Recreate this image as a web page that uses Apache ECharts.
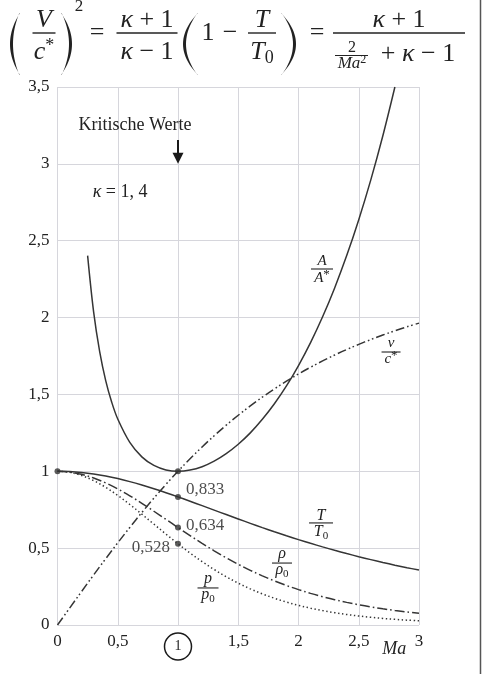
<!DOCTYPE html>
<html>
<head>
<meta charset="utf-8">
<script src="https://cdn.jsdelivr.net/npm/echarts@6/dist/echarts.min.js"></script>
<style>
  html, body { margin: 0; padding: 0; background: #fff; }
  #chart { width: 482px; height: 674px; }
</style>
</head>
<body>
<div id="chart"></div>
<script>
// Isentropic flow of a perfect gas, kappa = 1.4 — ratios over Mach number
const mach = [0, 0.1, 0.2, 0.3, 0.4, 0.5, 0.6, 0.7, 0.8, 0.9, 1.0,
  1.1, 1.2, 1.3, 1.4, 1.5, 1.6, 1.7, 1.8, 1.9, 2.0,
  2.1, 2.2, 2.3, 2.4, 2.5, 2.6, 2.7, 2.8, 2.9, 3.0];
const tempRatio = [1, 0.998, 0.9921, 0.9823, 0.969, 0.9524, 0.9328, 0.9107, 0.8865, 0.8606, 0.8333,
  0.8052, 0.7764, 0.7474, 0.7184, 0.6897, 0.6614, 0.6337, 0.6068, 0.5807, 0.5556,
  0.5313, 0.5081, 0.4859, 0.4647, 0.4444, 0.4252, 0.4068, 0.3894, 0.3729, 0.3571];
const densityRatio = [1, 0.995, 0.9803, 0.9564, 0.9243, 0.8852, 0.8405, 0.7916, 0.74, 0.687, 0.6339,
  0.5817, 0.5311, 0.4829, 0.4374, 0.395, 0.3557, 0.3197, 0.2868, 0.257, 0.23,
  0.2058, 0.1841, 0.1646, 0.1472, 0.1317, 0.1179, 0.1056, 0.0946, 0.0849, 0.0762];
const pressureRatio = [1, 0.993, 0.9725, 0.9395, 0.8956, 0.843, 0.784, 0.7209, 0.656, 0.5913, 0.5283,
  0.4684, 0.4124, 0.3609, 0.3142, 0.2724, 0.2353, 0.2026, 0.174, 0.1492, 0.1278,
  0.1094, 0.0935, 0.08, 0.0684, 0.0585, 0.0501, 0.043, 0.0368, 0.0317, 0.0272];
const velocityRatio = [0, 0.1094, 0.2182, 0.3257, 0.4313, 0.5345, 0.6348, 0.7318, 0.8251, 0.9146, 1.0,
  1.0812, 1.1583, 1.2311, 1.2999, 1.3646, 1.4254, 1.4825, 1.536, 1.5861, 1.633,
  1.6769, 1.7179, 1.7563, 1.7922, 1.8257, 1.8571, 1.8865, 1.914, 1.9398, 1.964];
const areaMach = [0.25, 0.3, 0.35, 0.4, 0.45, 0.5, 0.6, 0.7, 0.8, 0.9, 1.0,
  1.1, 1.2, 1.3, 1.4, 1.5, 1.6, 1.7, 1.8, 1.9, 2.0,
  2.1, 2.2, 2.3, 2.4, 2.5, 2.6, 2.7, 2.8];
const areaRatio = [2.403, 2.035, 1.778, 1.590, 1.449, 1.340, 1.188, 1.094, 1.038, 1.009, 1.000,
  1.008, 1.030, 1.066, 1.115, 1.176, 1.250, 1.338, 1.439, 1.555, 1.688,
  1.837, 2.005, 2.193, 2.403, 2.637, 2.896, 3.183, 3.500];
// critical state (Ma = 1): A/A*, T/T0, rho/rho0, p/p0
const criticalMach = 1;
const criticalValues = [1, 0.833, 0.634, 0.528];
const stagnationPoint = [0, 1];
const xTickLabels = ['0', '0,5', '1', '1,5', '2', '2,5', '3'];
const yTickLabels = ['0', '0,5', '1', '1,5', '2', '2,5', '3', '3,5'];

const FONT = '"Liberation Serif", "DejaVu Serif", serif';
const INK = '#222';
const CURVE = '#353535';
const GRID = '#d6d6dc';

const chart = echarts.init(document.getElementById('chart'), null, { renderer: 'canvas' });

function curve(name, xs, ys, dash) {
  return {
    type: 'line', name: name,
    data: xs.map((x, i) => [x, ys[i]]),
    symbol: 'none', showSymbol: false, smooth: 0.35,
    lineStyle: { color: CURVE, width: 1.5, type: dash },
    silent: true, z: 3
  };
}

// label placement of the critical values next to the dots
const criticalLabelStyle = [
  { show: false },
  { show: true, position: 'right', offset: [0, -7] },
  { show: true, position: 'right', offset: [0, -2] },
  { show: true, position: 'left', offset: [0, 4] }
];

const pointData = [{ value: stagnationPoint, label: { show: false } }].concat(
  criticalValues.map((v, i) => ({ value: [criticalMach, v], label: criticalLabelStyle[i] }))
);

chart.setOption({
  animation: false,
  backgroundColor: '#fff',
  grid: { left: 57.5, right: 63, top: 87, bottom: 49, containLabel: false },
  xAxis: {
    type: 'value', min: 0, max: 3, interval: 0.5,
    axisLine: { show: false }, axisTick: { show: false },
    splitLine: { show: true, lineStyle: { color: GRID, width: 1 } },
    axisLabel: {
      margin: 8, fontFamily: FONT, fontSize: 17, color: INK,
      formatter: function (v) {
        const s = xTickLabels[Math.round(v / 0.5)];
        return v === criticalMach ? '{c|' + s + '}' : s;
      },
      rich: {
        c: {
          fontFamily: FONT, fontSize: 14, color: INK,
          width: 27, height: 27, lineHeight: 27, align: 'center', verticalAlign: 'middle',
          borderColor: '#1a1a1a', borderWidth: 1.5, borderRadius: 14
        }
      }
    }
  },
  yAxis: {
    type: 'value', min: 0, max: 3.5, interval: 0.5,
    axisLine: { show: false }, axisTick: { show: false },
    splitLine: { show: true, lineStyle: { color: GRID, width: 1 } },
    axisLabel: {
      margin: 8, fontFamily: FONT, fontSize: 17, color: INK,
      formatter: function (v) { return yTickLabels[Math.round(v / 0.5)]; }
    }
  },
  series: [
    curve('T/T0', mach, tempRatio, 'solid'),
    curve('rho/rho0', mach, densityRatio, [10, 3, 1.6, 3]),
    curve('p/p0', mach, pressureRatio, [1.4, 2.6]),
    curve('v/c*', mach, velocityRatio, [9, 3, 1.6, 2.6, 1.6, 3]),
    curve('A/A*', areaMach, areaRatio, 'solid'),
    {
      type: 'scatter', data: pointData, symbol: 'circle', symbolSize: 6,
      itemStyle: { color: '#333' }, silent: true, z: 5,
      label: {
        fontFamily: FONT, fontSize: 17, color: INK, distance: 5,
        formatter: p => p.value[1].toFixed(3).replace('.', ',')
      }
    }
  ]
});

// ---------- annotations ----------
function mathRich(size) {
  const s = Math.round(size * 0.7);
  const st = Math.round(size * 0.85);
  return {
    i: { fontFamily: FONT, fontStyle: 'italic', fontSize: size, lineHeight: size + 4, fill: INK },
    r: { fontFamily: FONT, fontSize: size, lineHeight: size + 4, fill: INK },
    sub: { fontFamily: FONT, fontSize: s, lineHeight: s + 1, verticalAlign: 'bottom', fill: INK },
    sup: { fontFamily: FONT, fontSize: s, lineHeight: s + 1, verticalAlign: 'top', fill: INK },
    star: { fontFamily: FONT, fontSize: st, lineHeight: st, verticalAlign: 'top', fill: INK }
  };
}
function txt(x, y, text, size, align) {
  return {
    type: 'text', x: x, y: y, silent: true, z: 20,
    style: {
      text: text, fontFamily: FONT, fontSize: size, fill: INK,
      align: align || 'center', verticalAlign: 'middle', rich: mathRich(size)
    }
  };
}
function bar(x1, x2, y, w) {
  return { type: 'line', silent: true, z: 20, shape: { x1: x1, y1: y, x2: x2, y2: y },
    style: { stroke: INK, lineWidth: w || 1.1 } };
}
function fraction(cx, barY, barW, num, den, size, numDy, denDy) {
  return [
    txt(cx, barY + numDy, num, size),
    bar(cx - barW / 2, cx + barW / 2, barY, size > 18 ? 1.4 : 1.1),
    txt(cx, barY + denDy, den, size)
  ];
}
// large parenthesis as a crescent
function paren(xTip, xBulge, yTop, yBot, thick) {
  const s = xTip > xBulge ? 1 : -1;
  const pts = [];
  const ym = (yTop + yBot) / 2;
  const n = 24;
  const q = (a, c, b, t) => (1 - t) * (1 - t) * a + 2 * (1 - t) * t * c + t * t * b;
  for (let k = 0; k <= n; k++) {
    const t = k / n;
    pts.push([q(xTip, 2 * xBulge - xTip, xTip, t), q(yTop, ym, yBot, t)]);
  }
  const xi = xBulge + s * thick;
  const xe = xTip - s * 0.8;
  for (let k = n; k >= 0; k--) {
    const t = k / n;
    pts.push([q(xe, 2 * xi - xe, xe, t), q(yTop + 0.5, ym, yBot - 0.5, t)]);
  }
  return { type: 'polygon', silent: true, z: 20, shape: { points: pts }, style: { fill: INK } };
}

function buildGraphics() {
  const px = (x, y) => chart.convertToPixel({ gridIndex: 0 }, [x, y]);
  const g = [];

  // ---- formula ----
  g.push(paren(20, 10, 13, 75, 3));
  g.push(...fraction(44, 33, 23, '{i|V}', '{i|c}{sup|*}', 26, -13, 19));
  g.push(paren(61, 72, 13, 75, 3));
  g.push(txt(79, 7, '2', 17));
  g.push(txt(97, 33, '=', 26));
  g.push(...fraction(147, 33, 61, '{i|κ}{r| + 1}', '{i|κ}{r| − 1}', 26, -13, 19));
  g.push(paren(198, 183, 13, 75, 3));
  g.push(txt(208, 33, '1', 26));
  g.push(txt(230, 33, '−', 26));
  g.push(...fraction(262, 33, 28, '{i|T}', '{i|T}{sub|0}', 26, -13, 19));
  g.push(paren(281, 296, 13, 75, 3));
  g.push(txt(317, 33, '=', 26));
  g.push(...fraction(399, 33, 132, '{i|κ}{r| + 1}', '', 26, -13, 19));
  g.push(txt(352, 48, '2', 16));
  g.push(bar(335, 368, 55.5, 1.1));
  g.push(txt(352, 64, '{i|Ma}{sup|2}', 17));
  g.push(txt(418, 54, '{r|+ }{i|κ}{r| − 1}', 26));

  // ---- curve labels ----
  let p = px(2.195, 2.316);
  g.push(...fraction(p[0], p[1], 22, '{i|A}', '{i|A}{star|*}', 15, -7.5, 9));
  p = px(2.768, 1.776);
  g.push(...fraction(p[0], p[1], 19, '{i|v}', '{i|c}{star|*}', 15, -8.5, 7));
  p = px(2.187, 0.664);
  g.push(...fraction(p[0], p[1], 24, '{i|T}', '{i|T}{sub|0}', 16, -7, 9));
  p = px(1.863, 0.403);
  g.push(...fraction(p[0], p[1], 20, '{i|ρ}', '{i|ρ}{sub|0}', 16, -9.5, 7));
  p = px(1.249, 0.241);
  g.push(...fraction(p[0], p[1], 21, '{i|p}', '{i|p}{sub|0}', 16, -9.5, 7));

  // ---- critical-state marker ----
  p = px(0.643, 3.253);
  g.push(txt(p[0], p[1], 'Kritische Werte', 18));
  const a0 = px(criticalMach, 3.156), a1 = px(criticalMach, 3.0);
  g.push({ type: 'line', silent: true, z: 20,
    shape: { x1: a0[0], y1: a0[1], x2: a1[0], y2: a1[1] - 9 },
    style: { stroke: '#1a1a1a', lineWidth: 2 } });
  g.push({ type: 'polygon', silent: true, z: 20,
    shape: { points: [[a1[0] - 5.5, a1[1] - 11], [a1[0] + 5.5, a1[1] - 11], [a1[0], a1[1]]] },
    style: { fill: '#1a1a1a' } });

  p = px(0.519, 2.817);
  g.push(txt(p[0], p[1], '{i|κ}{r| = 1, 4}', 18));

  // axis name
  p = px(2.795, 0);
  g.push(txt(p[0], p[1] + 24, '{i|Ma}', 18));

  // page frame on the right
  g.push({ type: 'line', silent: true, z: 20, shape: { x1: 480.5, y1: 0, x2: 480.5, y2: 674 },
    style: { stroke: '#555', lineWidth: 1.5 } });
  return g;
}

chart.setOption({ graphic: { elements: buildGraphics() } });
</script>
</body>
</html>
